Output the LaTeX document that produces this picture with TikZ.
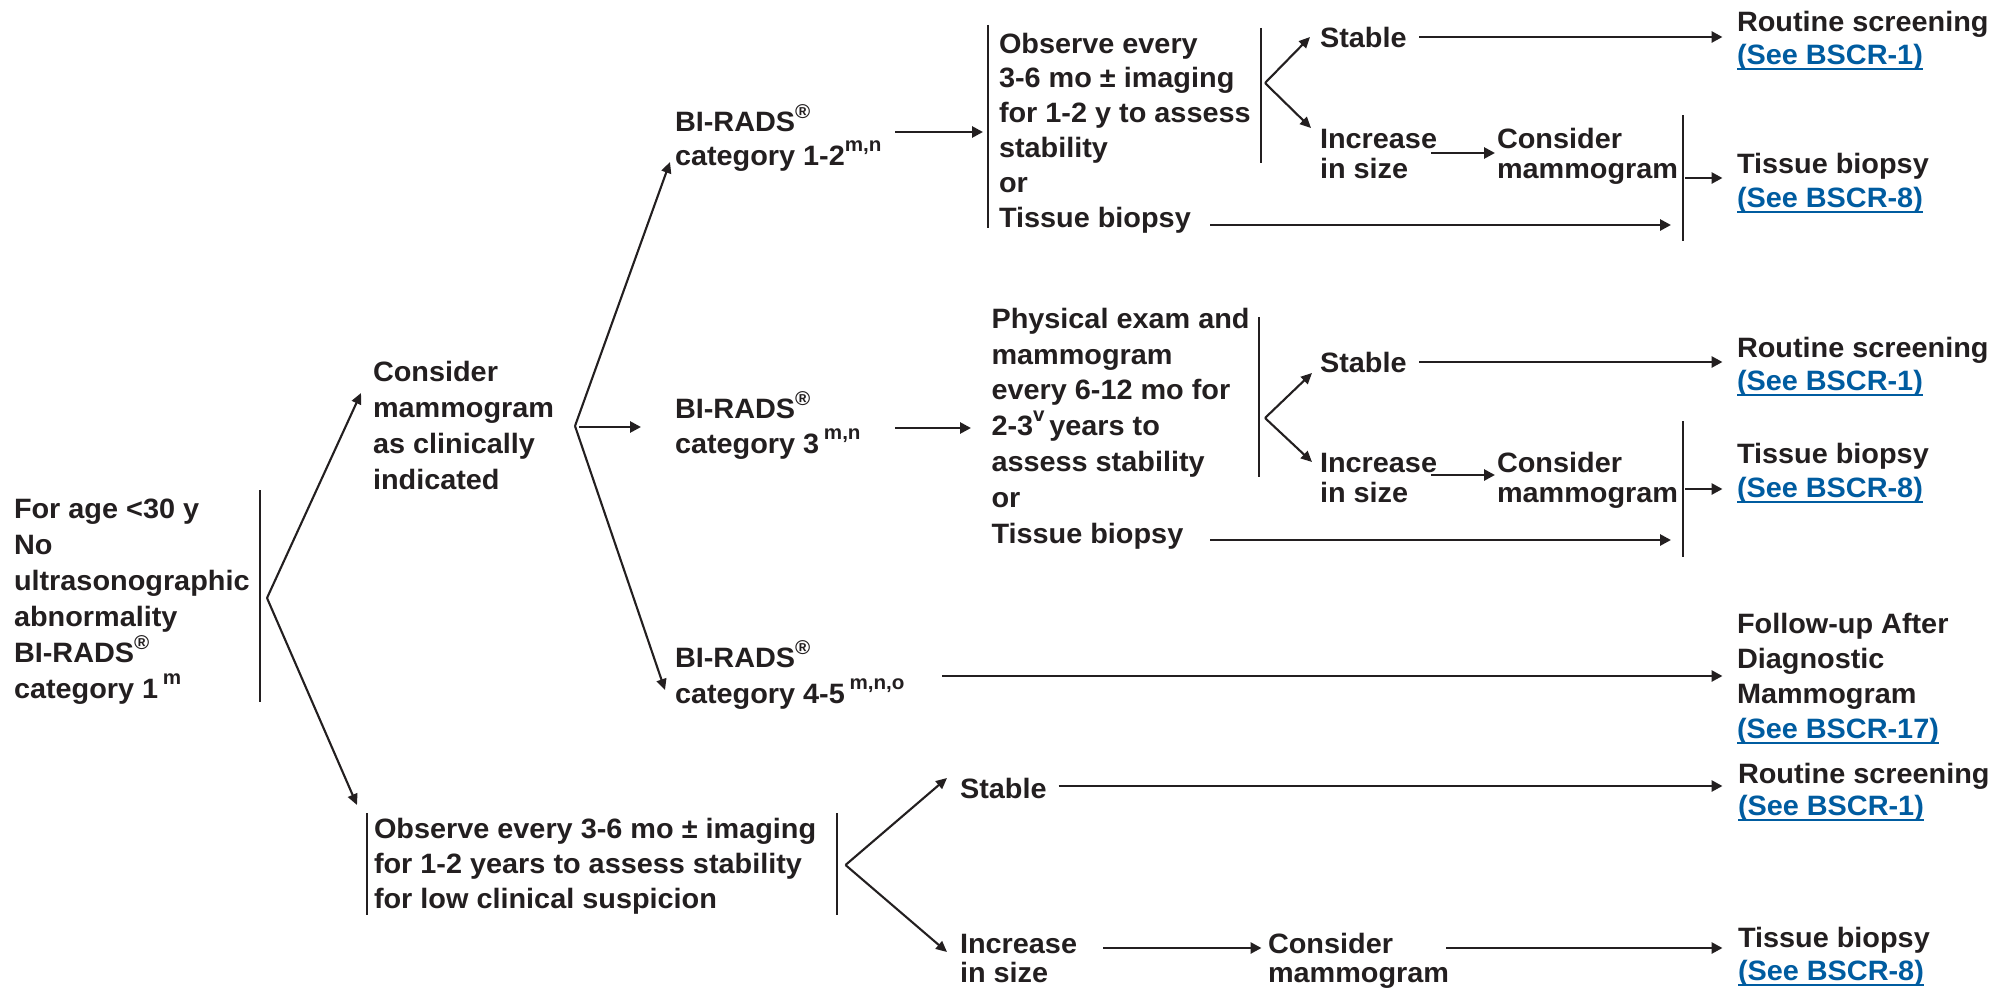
\documentclass[tikz,border=0pt]{standalone}
\usepackage{fontspec}
\setmainfont{Liberation Sans}[FakeStretch=1.03]
\usetikzlibrary{arrows.meta}
\definecolor{ink}{HTML}{231F20}
\definecolor{linkblue}{RGB}{0,92,160}
% raised footnote letters and registered mark
\newcommand\sups[1]{\raisebox{0.5em}{\fontsize{20}{20}\selectfont #1}}
\newcommand\reg{\raisebox{0.45em}{\fontsize{20}{20}\selectfont ®}}
% underlined blue cross-reference
\newcommand\lnk[1]{{\color{linkblue}\setbox0\hbox{#1}\rlap{\rule[-5.5pt]{\wd0}{2pt}}\box0}}

\begin{document}
\begin{tikzpicture}[x=1pt,y=-1pt,
  % text blocks are placed by the baseline of their last line
  txt/.style={anchor=base west, inner sep=0pt, outer sep=0pt, align=left, text=ink,
              font=\bfseries\fontsize{28}{#1}\selectfont},
  txt/.default=36,
  arr/.style={draw=ink, line width=2.7pt, -{Triangle[length=11pt,width=11pt]}},
  darr/.style={draw=ink, line width=2.1pt, -{Triangle[length=11pt,width=10pt]}},
  bar/.style={draw=ink, line width=2pt}]

\fill[white] (0,0) rectangle (1996,990);
\useasboundingbox (0,0) rectangle (1996,990);

% ---------- text blocks ----------
\node[txt=36] (start) at (14,698) {For age <30 y\\No\\ultrasonographic\\abnormality\\BI-RADS\reg\\category 1\,\sups{m}};
\node[txt=36] (consider) at (373,489) {Consider\\mammogram\\as clinically\\indicated};

\node[txt=34] (bi12) at (675,165) {BI-RADS\reg\\category 1-2\sups{m,n}};
\node[txt=35] (bi3) at (675,453) {BI-RADS\reg\\category 3\,\sups{m,n}};
\node[txt=36] (bi45) at (675,703) {BI-RADS\reg\\category 4-5\,\sups{m,n,o}};

\node[txt=34.8] (obsA) at (999,227) {Observe every\\3-6 mo ± imaging\\for 1-2 y to assess\\stability\\or\\Tissue biopsy};
\node[txt=35.8] (physB) at (991.5,543) {Physical exam and\\mammogram\\every 6-12 mo for\\2-3\sups{v}\,years to\\assess stability\\or\\Tissue biopsy};
\node[txt=35] (obsC) at (374,908) {Observe every 3-6 mo ± imaging\\for 1-2 years to assess stability\\for low clinical suspicion};

% upper branch outcomes
\node[txt] (stA) at (1320,48) {Stable};
\node[txt=30] (incA) at (1320,178) {Increase\\in size};
\node[txt=30] (conA) at (1497,178) {Consider\\mammogram};
\node[txt=33] (routA) at (1737,65) {Routine screening\\\lnk{(See BSCR-1)}};
\node[txt=34] (tbA) at (1737,207) {Tissue biopsy\\\lnk{(See BSCR-8)}};

% middle branch outcomes
\node[txt] (stB) at (1320,372) {Stable};
\node[txt=30] (incB) at (1320,502) {Increase\\in size};
\node[txt=30] (conB) at (1497,502) {Consider\\mammogram};
\node[txt=33] (routB) at (1737,390) {Routine screening\\\lnk{(See BSCR-1)}};
\node[txt=34] (tbB) at (1737,497) {Tissue biopsy\\\lnk{(See BSCR-8)}};

% category 4-5 outcome
\node[txt=35] (follow) at (1737,738) {Follow-up After\\Diagnostic\\Mammogram\\\lnk{(See BSCR-17)}};

% lower branch outcomes
\node[txt] (stC) at (960,798) {Stable};
\node[txt=29] (incC) at (960,982) {Increase\\in size};
\node[txt=29] (conC) at (1268,982) {Consider\\mammogram};
\node[txt=32] (routC) at (1738,815) {Routine screening\\\lnk{(See BSCR-1)}};
\node[txt=33] (tbC) at (1738,980) {Tissue biopsy\\\lnk{(See BSCR-8)}};

% ---------- bracket bars ----------
\draw[bar] (260,490) -- (260,702);
\draw[bar] (988,25) -- (988,228);
\draw[bar] (1261,28) -- (1261,163);
\draw[bar] (1683,115) -- (1683,241);
\draw[bar] (1259,317) -- (1259,477);
\draw[bar] (1683,421) -- (1683,557);
\draw[bar] (367,813) -- (367,915);
\draw[bar] (837,813) -- (837,915);

% ---------- fork points and arrow ends ----------
\coordinate (f0) at (267,598);
\coordinate (f1) at (575,426);
\coordinate (fA) at (1265,83);
\coordinate (fB) at (1265,418);
\coordinate (fC) at (845.5,865);

\coordinate (in-consider) at (361,393);
\coordinate (in-obsC) at (357,805);
\coordinate (in-bi12) at (670,162);
\coordinate (in-bi45) at (665,690);
\coordinate (in-stA) at (1310,37);
\coordinate (in-incA) at (1311,128);
\coordinate (in-stB) at (1312,373);
\coordinate (in-incB) at (1312,462);
\coordinate (in-stC) at (947,778);
\coordinate (in-incC) at (947,952);

% ---------- connectors ----------
\draw[darr] (f0) -- (in-consider);
\draw[darr] (f0) -- (in-obsC);

\draw[darr] (f1) -- (in-bi12);
\draw[arr] (579,427) -- (641,427);
\draw[darr] (f1) -- (in-bi45);

\draw[arr] (895,132) -- (983,132);
\draw[arr] (895,428) -- (971,428);
\draw[arr] (942,676) -- (1722.5,676);

\draw[darr] (fA) -- (in-stA);
\draw[darr] (fA) -- (in-incA);
\draw[arr] (1419,37) -- (1722.5,37);
\draw[arr] (1431,153) -- (1495,153);
\draw[arr] (1685,178) -- (1722.5,178);
\draw[arr] (1210,225) -- (1671,225);

\draw[darr] (fB) -- (in-stB);
\draw[darr] (fB) -- (in-incB);
\draw[arr] (1419,362) -- (1722.5,362);
\draw[arr] (1431,475) -- (1495,475);
\draw[arr] (1685,489) -- (1722.5,489);
\draw[arr] (1210,540) -- (1671,540);

\draw[darr] (fC) -- (in-stC);
\draw[darr] (fC) -- (in-incC);
\draw[arr] (1058.5,786) -- (1722.5,786);
\draw[arr] (1103,948) -- (1261.5,948);
\draw[arr] (1446,948) -- (1722.5,948);
\end{tikzpicture}
\end{document}
